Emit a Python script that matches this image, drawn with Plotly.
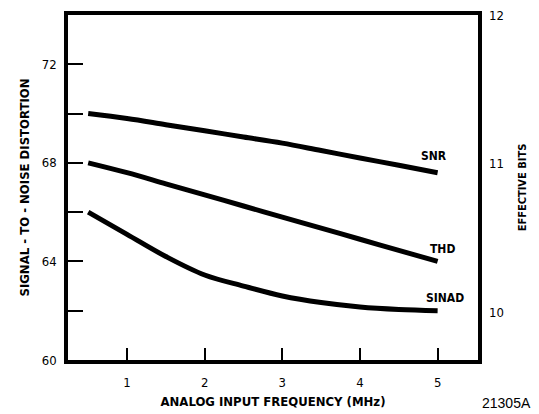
import plotly.graph_objects as go

freq = [0.5, 1, 1.5, 2, 2.5, 3, 3.5, 4, 4.5, 5]
snr = [70.0, 69.8, 69.55, 69.3, 69.05, 68.8, 68.5, 68.2, 67.9, 67.6]
thd = [68.0, 67.6, 67.15, 66.7, 66.25, 65.8, 65.35, 64.9, 64.45, 64.0]
sinad = [66.0, 65.1, 64.2, 63.45, 63.0, 62.6, 62.33, 62.15, 62.05, 62.0]

y_ticks = [60, 62, 64, 66, 68, 70, 72]
y_ticktext = ["60", "", "64", "", "68", "", "72"]
x_ticks = [1, 2, 3, 4, 5]
bits_ticks = [10, 11, 12]

FONT = "DejaVu Sans Condensed, Liberation Sans Narrow, Arial Narrow, Liberation Sans"

fig = go.Figure()
for name, ys in [("SNR", snr), ("THD", thd), ("SINAD", sinad)]:
    fig.add_trace(go.Scatter(x=freq, y=ys, mode="lines", name=name,
                             line=dict(color="black", width=5, shape="spline"),
                             showlegend=False, hoverinfo="skip"))
# invisible trace to activate the right axis
fig.add_trace(go.Scatter(x=[freq[0]], y=[bits_ticks[0]], yaxis="y2", mode="markers",
                         marker=dict(opacity=0), showlegend=False, hoverinfo="skip"))

labels = [("SNR", 4.95, 68.28), ("THD", 5.06, 64.5), ("SINAD", 5.1, 62.5)]
for t, x, y in labels:
    fig.add_annotation(x=x, y=y, text="<b>%s</b>" % t, showarrow=False,
                       font=dict(family=FONT, size=12, color="black"))

fig.add_annotation(x=1.0, y=0, xref="paper", yref="paper", xanchor="center", yanchor="middle",
                   xshift=28, yshift=-43, text="21305A", showarrow=False,
                   font=dict(family="Liberation Sans, Arial", size=14, color="black"))

fig.update_layout(
    width=531, height=406,
    margin=dict(l=60, r=61, t=7, b=54),
    paper_bgcolor="white", plot_bgcolor="white",
    font=dict(family=FONT, size=13, color="black"),
    xaxis=dict(range=[0.24, 5.52], tickvals=x_ticks, ticks="inside", ticklen=12, tickwidth=2,
               tickcolor="black", showline=True, linewidth=3.5, linecolor="black", mirror=True,
               showgrid=False, zeroline=False, ticklabelstandoff=8, automargin=False,
               ticklabeloverflow="allow", tickfont=dict(family=FONT, size=13),
               title=dict(text="<b>ANALOG INPUT FREQUENCY (MHz)</b>", standoff=9,
                          font=dict(family=FONT, size=13))),
    yaxis=dict(range=[60, 74], tickvals=y_ticks, ticktext=y_ticktext, ticks="inside",
               ticklen=15, tickwidth=2, tickcolor="black", showline=True, linewidth=3.5,
               linecolor="black", mirror=True, showgrid=False, zeroline=False,
               ticklabelstandoff=5, automargin=False, ticklabeloverflow="allow",
               tickfont=dict(family=FONT, size=13),
               title=dict(text="<b>SIGNAL - TO - NOISE DISTORTION</b>", standoff=10,
                          font=dict(family=FONT, size=13))),
    yaxis2=dict(range=[9.68, 12], overlaying="y", side="right", tickvals=bits_ticks,
                ticks="", showline=False, showgrid=False, zeroline=False, automargin=False,
                ticklabelstandoff=10, ticklabeloverflow="allow",
                tickfont=dict(family=FONT, size=13),
                title=dict(text="<b>EFFECTIVE BITS</b>", standoff=15,
                           font=dict(family=FONT, size=11))),
)

fig.write_html("out.html")
